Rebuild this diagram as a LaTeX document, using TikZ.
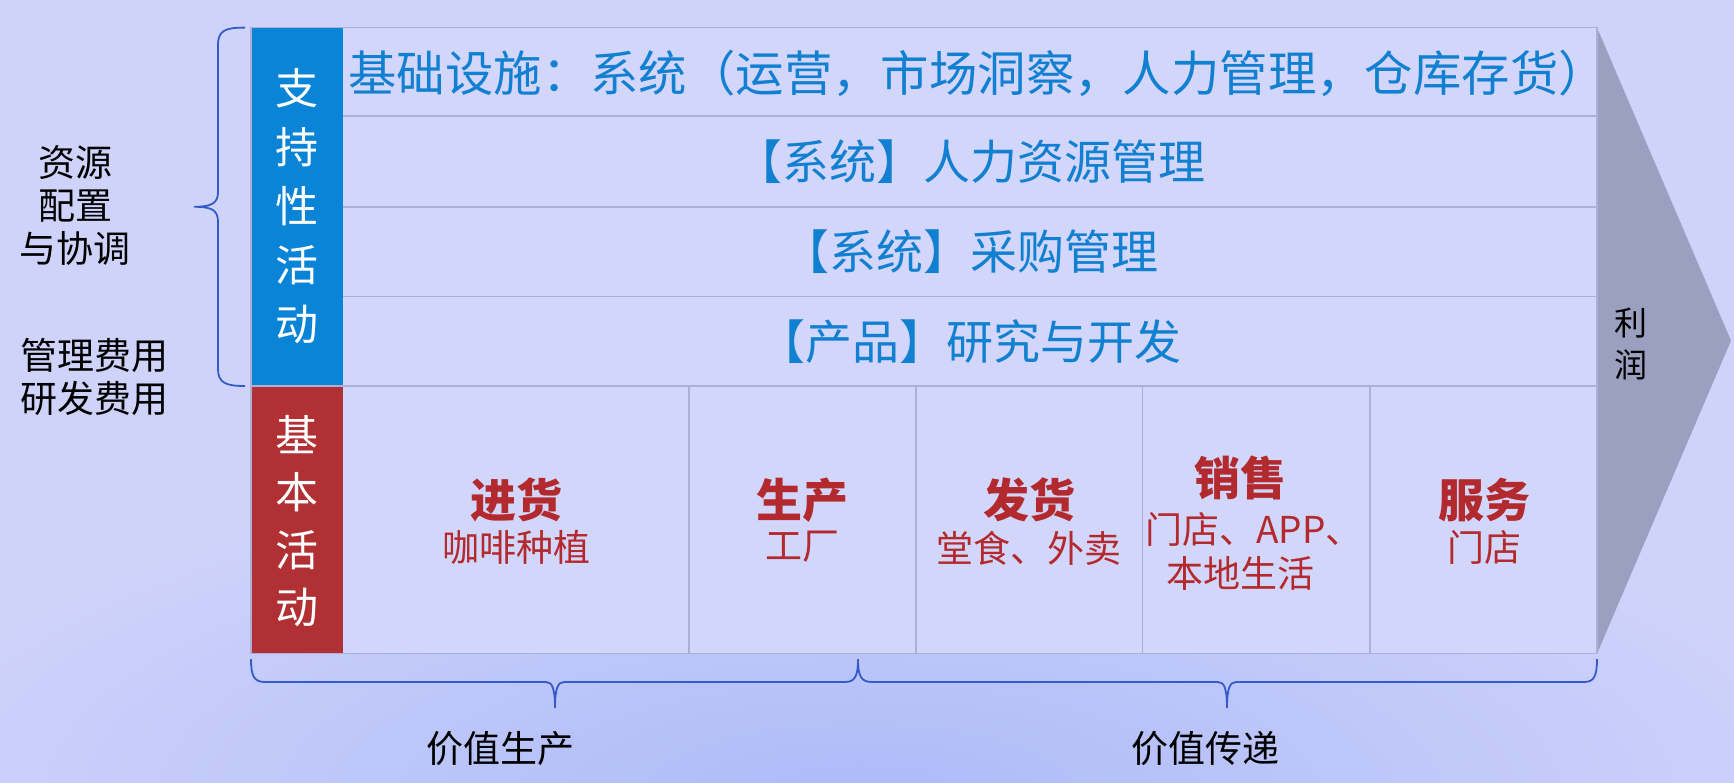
\documentclass[tikz,border=0pt]{standalone}
\usepackage{fontspec}
\setmainfont{Noto Sans CJK SC}
\definecolor{bg}{RGB}{207,211,250}
\definecolor{bgblue}{RGB}{172,186,248}
\definecolor{boxfill}{RGB}{211,214,251}
\definecolor{gridc}{RGB}{172,176,214}
\definecolor{supblue}{RGB}{10,132,214}
\definecolor{basred}{RGB}{176,48,52}
\definecolor{txtblue}{RGB}{18,128,208}
\definecolor{txtred}{RGB}{178,42,46}
\definecolor{arrowgray}{RGB}{156,160,192}
\definecolor{bracec}{RGB}{52,92,200}
\begin{document}
\begin{tikzpicture}[x=0.5pt,y=-0.5pt,
  gridline/.style={draw=gridc,line width=0.8pt},
  bracepath/.style={draw=bracec,line width=0.9pt},
  sidetxt/.style={inner sep=0pt,text=black,font=\fontsize{18.5}{21.5}\selectfont},
  colvert/.style={inner sep=0pt,text=white,align=center},
  suptxt/.style={inner sep=0pt,text=txtblue,font=\fontsize{23.5}{28}\selectfont},
  basttl/.style={inner sep=0pt,text=txtred,font=\fontsize{23}{28}\selectfont\bfseries},
  bassub/.style={inner sep=0pt,text=txtred,font=\fontsize{18.5}{22}\selectfont,align=center},
  bottxt/.style={inner sep=0pt,text=black,font=\fontsize{18.5}{22}\selectfont}]
\useasboundingbox (0,0) rectangle (1734,782);
\fill[bg] (0,0) rectangle (1734,782);
\begin{scope}
  \clip (0,0) rectangle (1734,782);
  \shade[inner color=bgblue, outer color=bg] (860,800) ellipse (1000 and 340);
\end{scope}
% arrow head
\fill[arrowgray] (1597,27.6) -- (1731,340.6) -- (1597,653.6) -- cycle;
% main box
\fill[boxfill] (251,27.6) rectangle (1597,653.6);
\fill[supblue] (251,27.6) rectangle (343,386);
\fill[basred] (251,386) rectangle (343,653.6);
\draw[gridline] (343,116) -- (1597,116);
\draw[gridline] (343,206.8) -- (1597,206.8);
\draw[gridline] (343,296.4) -- (1597,296.4);
\draw[gridline] (251,386) -- (1597,386);
\draw[gridline] (689,386) -- (689,653.6);
\draw[gridline] (915.7,386) -- (915.7,653.6);
\draw[gridline] (1142.4,386) -- (1142.4,653.6);
\draw[gridline] (1370.2,386) -- (1370.2,653.6);
\draw[gridline] (251,27.6) rectangle (1597,653.6);
% column labels
\node[colvert,font=\fontsize{21.5}{29.5}\selectfont] (supcol) at (297,206) {支\\持\\性\\活\\动};
\node[colvert,font=\fontsize{21.5}{28.75}\selectfont] (bascol) at (297,521) {基\\本\\活\\动};
% support rows
\node[suptxt,anchor=west,font=\fontsize{24.2}{28}\selectfont] (infra) at (348,73) {基础设施：系统（运营，市场洞察，人力管理，仓库存货）};
\node[suptxt] (hr) at (970,162) {【系统】人力资源管理};
\node[suptxt] (proc) at (970,252) {【系统】采购管理};
\node[suptxt] (rd) at (970,342) {【产品】研究与开发};
% basic activities
\node[basttl] (t1) at (516,500) {进货};
\node[bassub] (s1) at (516,547) {咖啡种植};
\node[basttl] (t2) at (802,500) {生产};
\node[bassub] (s2) at (802,547) {工厂};
\node[basttl] (t3) at (1029,500) {发货};
\node[bassub] (s3) at (1029,548) {堂食、外卖};
\node[basttl] (t4) at (1240,478) {销售};
\node[bassub] (s4a) at (1254,529) {门店、APP、};
\node[bassub] (s4b) at (1240,573) {本地生活};
\node[basttl] (t5) at (1484,500) {服务};
\node[bassub] (s5) at (1484,547) {门店};
% profit
\node[inner sep=0pt,text=black,align=center,font=\fontsize{16.5}{21}\selectfont] (profit) at (1631,344) {利\\润};
% left side
\node[sidetxt,align=center] (res) at (75,206) {资源\\配置\\与协调};
\node[sidetxt,align=left,anchor=west] (cost) at (20,377) {管理费用\\研发费用};
\draw[bracepath] (245,27.6) .. controls (226,27.6) and (218,30) .. (218,45) -- (218,192) .. controls (218,203) and (212,206.8) .. (194,206.8) .. controls (212,206.8) and (218,210) .. (218,222) -- (218,369) .. controls (218,383) and (226,386) .. (245,386);
% bottom braces
\draw[bracepath] (251,659) .. controls (251,676) and (254,682) .. (265,682) -- (546,682) .. controls (552,682) and (555,688) .. (555,708) .. controls (555,688) and (558,682) .. (564,682) -- (845,682) .. controls (855,682) and (858,676) .. (858,659);
\draw[bracepath] (858,659) .. controls (858,676) and (861,682) .. (872,682) -- (1218,682) .. controls (1224,682) and (1227,688) .. (1227,708) .. controls (1227,688) and (1230,682) .. (1236,682) -- (1584,682) .. controls (1594,682) and (1597,676) .. (1597,659);
\node[bottxt] (vprod) at (500,749) {价值生产};
\node[bottxt] (vdel) at (1205,749) {价值传递};
\end{tikzpicture}
\end{document}
